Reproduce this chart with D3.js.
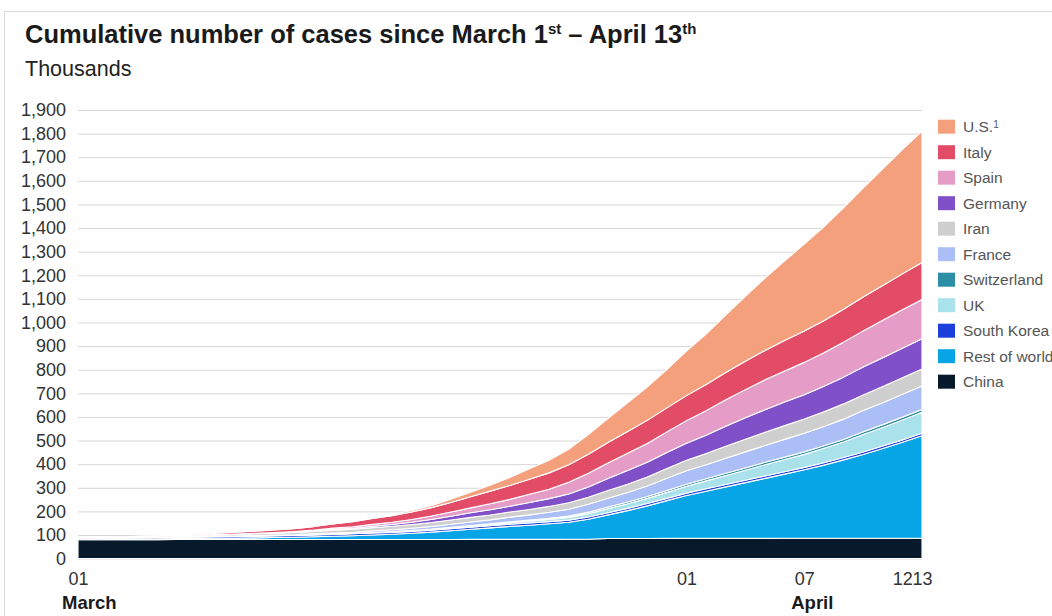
<!DOCTYPE html>
<html>
<head>
<meta charset="utf-8">
<script src="https://cdnjs.cloudflare.com/ajax/libs/d3/7.8.5/d3.min.js"></script>
<style>
  body { margin: 0; background: #fff; }
  svg { display: block; font-family: "Liberation Sans", Arial, sans-serif; }
</style>
</head>
<body>
<svg id="chart" width="1052" height="616"></svg>
<script>
// thousands of cumulative cases, one value per day, Mar 1 .. Apr 13
const dates = [
  '2020-03-01','2020-03-02','2020-03-03','2020-03-04','2020-03-05','2020-03-06','2020-03-07','2020-03-08',
  '2020-03-09','2020-03-10','2020-03-11','2020-03-12','2020-03-13','2020-03-14','2020-03-15','2020-03-16',
  '2020-03-17','2020-03-18','2020-03-19','2020-03-20','2020-03-21','2020-03-22','2020-03-23','2020-03-24',
  '2020-03-25','2020-03-26','2020-03-27','2020-03-28','2020-03-29','2020-03-30','2020-03-31','2020-04-01',
  '2020-04-02','2020-04-03','2020-04-04','2020-04-05','2020-04-06','2020-04-07','2020-04-08','2020-04-09',
  '2020-04-10','2020-04-11','2020-04-12','2020-04-13'
];

const china = [79.9,80.0,80.2,80.3,80.4,80.6,80.7,80.8,80.8,80.9,80.9,80.9,80.9,81.0,81.0,81.0,
  81.0,81.1,81.1,81.2,81.3,81.3,81.4,81.5,81.6,81.7,81.8,85.2,85.3,85.4,85.5,85.5,
  85.6,85.7,85.8,85.8,85.9,86.0,86.0,86.1,86.2,86.3,86.4,86.5];
const restOfWorld = [2.0,2.3,2.6,3.0,3.4,3.9,4.5,5.2,6.0,7.0,8.2,9.5,11.5,13.5,16,19,
  22,26,31,37,43,49,55,60,66,72,85,100,118,138,160,182,
  200,218,236,254,272,290,310,332,355,380,406,434];
const southKorea = [3.2,3.7,4.3,5.2,5.6,6.1,6.6,7.0,7.3,7.5,7.5,7.8,7.9,8.0,8.1,8.2,
  8.2,8.3,8.4,8.6,8.7,8.8,8.9,9.0,9.0,9.1,9.2,9.3,9.5,9.6,9.7,9.8,
  9.9,10.0,10.1,10.2,10.2,10.3,10.3,10.4,10.4,10.5,10.5,10.5];
const uk = [0.04,0.04,0.05,0.09,0.12,0.16,0.21,0.27,0.32,0.38,0.46,0.46,0.8,1.1,1.1,1.5,
  2.0,2.6,2.7,4.0,5.0,5.7,6.7,8.1,9.5,11.7,14.6,17.1,19.5,22.1,25.2,29.5,
  33.7,38.2,42.0,47.8,51.6,55.2,60.7,65.1,73.8,78.9,84.3,88.6];
const switzerland = [0.02,0.03,0.04,0.05,0.06,0.09,0.11,0.14,0.17,0.21,0.31,0.32,0.5,0.6,0.7,1.0,
  1.2,1.4,1.7,2.0,2.5,3.1,3.7,4.3,4.9,5.5,6.1,6.7,7.2,7.6,8.0,8.4,
  8.8,9.2,9.6,9.9,10.2,10.5,10.8,11.1,11.4,11.7,12.0,12.3];
const france = [0.13,0.19,0.21,0.29,0.42,0.61,0.95,1.13,1.21,1.78,2.28,2.28,3.66,4.5,4.5,6.6,
  7.65,9.0,10.9,12.6,14.4,16.0,19.8,22.3,25.2,29.2,33.4,37.6,40.2,44.6,52.1,56.9,
  59.1,64.3,68.6,71.3,75.0,78.5,82.0,86.0,90.0,93.0,96.5,99.5];
const iran = [0.59,0.98,1.5,2.34,2.92,3.51,4.75,5.82,6.57,7.16,8.04,9.0,10.08,11.36,12.73,13.94,
  14.99,16.17,17.36,18.41,19.64,20.61,21.64,23.05,24.81,27.02,29.41,32.33,35.41,38.31,41.5,44.6,
  47.59,50.47,53.18,55.74,58.23,60.5,62.59,64.59,66.22,68.19,70.03,71.69];
const germany = [0.08,0.13,0.16,0.2,0.26,0.48,0.67,0.8,1.04,1.18,1.46,1.9,2.08,3.68,4.59,5.8,
  7.27,9.26,12.3,15.3,19.8,22.2,24.9,29.1,32.9,37.3,43.9,50.9,57.7,62.1,66.9,71.8,
  77.9,84.8,91.2,96.1,100.1,103.4,107.7,113.3,118.2,122.2,124.9,127.9];
const spain = [0.045,0.084,0.12,0.165,0.222,0.259,0.4,0.5,0.67,1.07,1.69,2.28,3.1,5.2,6.4,7.8,
  9.9,11.7,14.8,17.9,20.4,25.4,28.8,35.1,40.0,49.5,57.8,65.7,73.2,80.1,87.9,95.9,
  104.1,112.1,119.2,126.2,131.6,136.7,141.9,148.2,153.2,158.3,163.0,166.8];
const italy = [1.13,1.69,2.04,2.5,3.09,3.86,4.64,5.88,7.38,9.17,10.15,12.46,15.1,17.66,21.16,24.75,
  27.98,31.5,35.7,41.0,47.0,53.6,59.1,63.9,69.2,74.4,80.6,86.5,92.5,97.7,101.7,105.8,
  110.6,115.2,119.8,124.6,128.9,132.5,135.6,139.4,143.6,147.6,152.3,156.4];
const us = [0.07,0.075,0.1,0.12,0.16,0.22,0.32,0.44,0.54,0.6,0.96,1.3,1.7,2.2,2.9,3.5,
  4.6,6.4,7.8,13.7,19.1,25.5,33.3,43.8,53.7,65.8,83.8,101.7,121.5,140.9,161.8,188.2,
  213.4,243.6,275.6,306.0,337.1,368.0,398.0,429.1,461.4,494.0,526.4,556.0];

const yTicks = [0,100,200,300,400,500,600,700,800,900,1000,1100,1200,1300,1400,1500,1600,1700,1800,1900];
const xTickDates = ['2020-03-01','2020-04-01','2020-04-07','2020-04-12','2020-04-13'];
const monthLabels = [
  { text: 'March', date: '2020-03-01', shift: -16 },
  { text: 'April', date: '2020-04-07', shift: -13 }
];

// bottom of the stack first
const series = [
  { key: 'china', label: 'China', values: china, color: '#061a2b' },
  { key: 'row', label: 'Rest of world', values: restOfWorld, color: '#07a5e6' },
  { key: 'korea', label: 'South Korea', values: southKorea, color: '#1c3fdc' },
  { key: 'uk', label: 'UK', values: uk, color: '#a9e2ea' },
  { key: 'swiss', label: 'Switzerland', values: switzerland, color: '#2b8ea4' },
  { key: 'france', label: 'France', values: france, color: '#abbff6' },
  { key: 'iran', label: 'Iran', values: iran, color: '#cfcfcf' },
  { key: 'germany', label: 'Germany', values: germany, color: '#8050c8' },
  { key: 'spain', label: 'Spain', values: spain, color: '#e59dc8' },
  { key: 'italy', label: 'Italy', values: italy, color: '#e34c67' },
  { key: 'us', label: 'U.S.', values: us, color: '#f5a07c', note: '1' }
];

const parse = d3.timeParse('%Y-%m-%d');
const rows = dates.map((d, i) => {
  const r = { date: parse(d) };
  series.forEach(s => { r[s.key] = s.values[i]; });
  return r;
});

const margin = { left: 78, right: 130, top: 110, bottom: 57.4 };
const width = 1052, height = 616;

const svg = d3.select('#chart');

svg.append('rect')
  .attr('x', 4.5).attr('y', 11.5)
  .attr('width', 1100).attr('height', 700)
  .attr('fill', 'none').attr('stroke', '#d9d9d9');

const x = d3.scaleTime()
  .domain(d3.extent(rows, d => d.date))
  .range([margin.left, width - margin.right]);

const y = d3.scaleLinear()
  .domain([0, 1900])
  .range([height - margin.bottom, margin.top]);

// gridlines
svg.append('g')
  .attr('transform', `translate(${margin.left},0)`)
  .call(d3.axisLeft(y).tickValues(yTicks).tickSize(-(width - margin.right - margin.left)).tickFormat(''))
  .call(g => g.select('.domain').remove())
  .call(g => g.selectAll('line').attr('stroke', '#d6d6d6').attr('stroke-width', 1));

const stack = d3.stack().keys(series.map(s => s.key));
const layers = stack(rows);

const area = d3.area()
  .x(d => x(d.data.date))
  .y0(d => y(d[0]))
  .y1(d => y(d[1]));

svg.append('g')
  .selectAll('path')
  .data(layers)
  .join('path')
  .attr('d', area)
  .attr('fill', (d, i) => series[i].color)
  .attr('stroke', '#fff')
  .attr('stroke-width', 1.1)
  .attr('stroke-linejoin', 'round');

// y axis labels
svg.append('g')
  .attr('transform', `translate(${margin.left},0)`)
  .call(d3.axisLeft(y).tickValues(yTicks).tickSize(0).tickPadding(12).tickFormat(d3.format(',')))
  .call(g => g.select('.domain').remove())
  .call(g => g.selectAll('text')
    .attr('fill', '#333')
    .style('font-size', '18px')
    .style('font-family', '"Liberation Sans", Arial, sans-serif'));

// x axis labels
svg.append('g')
  .attr('transform', `translate(0,${height - margin.bottom})`)
  .call(d3.axisBottom(x).tickValues(xTickDates.map(parse)).tickSize(0).tickPadding(14).tickFormat(d3.timeFormat('%d')))
  .call(g => g.select('.domain').remove())
  .call(g => g.selectAll('text')
    .attr('fill', '#333')
    .style('font-size', '18px')
    .style('font-family', '"Liberation Sans", Arial, sans-serif'));

svg.append('g')
  .selectAll('text')
  .data(monthLabels)
  .join('text')
  .attr('x', d => x(parse(d.date)) + d.shift)
  .attr('y', 609)
  .attr('fill', '#1a1a1a')
  .style('font-size', '18.5px')
  .style('font-weight', 'bold')
  .text(d => d.text);

// title
const title = svg.append('text')
  .attr('x', 25).attr('y', 43)
  .attr('fill', '#1a1a1a')
  .style('font-size', '25.5px')
  .style('font-weight', 'bold');
title.append('tspan').text('Cumulative number of cases since March 1');
title.append('tspan').attr('dy', -9).style('font-size', '15px').text('st');
title.append('tspan').attr('dy', 9).text(' \u2013 April 13');
title.append('tspan').attr('dy', -9).style('font-size', '15px').text('th');

svg.append('text')
  .attr('x', 25).attr('y', 76)
  .attr('fill', '#222')
  .style('font-size', '21.5px')
  .text('Thousands');

// legend, top of stack first
const legend = svg.append('g')
  .selectAll('g')
  .data(series.slice().reverse())
  .join('g')
  .attr('transform', (d, i) => `translate(938,${126.7 + i * 25.5})`);

legend.append('rect')
  .attr('x', 0).attr('y', -7)
  .attr('width', 17).attr('height', 14)
  .attr('fill', d => d.color);

const legendText = legend.append('text')
  .attr('x', 25).attr('y', 0).attr('dy', '0.35em')
  .attr('fill', '#555')
  .style('font-size', '15.5px')
  .text(d => d.label);

legendText.filter(d => d.note)
  .append('tspan')
  .attr('dy', '-0.45em')
  .style('font-size', '10px')
  .text(d => d.note);
</script>
</body>
</html>
